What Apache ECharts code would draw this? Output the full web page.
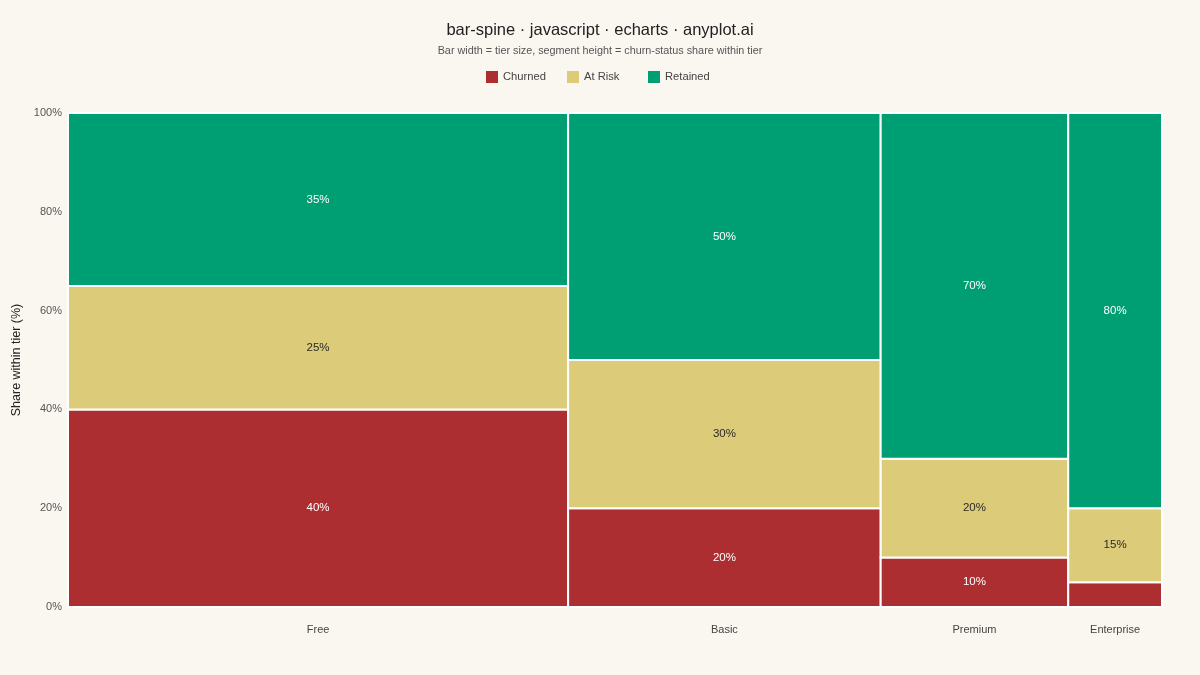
<!DOCTYPE html>
<html>
<head>
<meta charset="utf-8">
<script src="https://cdn.jsdelivr.net/npm/echarts@6/dist/echarts.min.js"></script>
<style>
	html, body { margin: 0; padding: 0; background: #faf7f1; }
	#main { width: 1200px; height: 675px; }
</style>
</head>
<body>
<div id="main"></div>
<script>
// tiers and their sizes (bar width)
var tiers = ['Free', 'Basic', 'Premium', 'Enterprise'];
var tierSize = [8000, 5000, 3000, 1500];
// share within tier (%)
var statuses = ['Churned', 'At Risk', 'Retained'];
var churned = [40, 20, 10, 5];
var atRisk = [25, 30, 20, 15];
var retained = [35, 50, 70, 80];
var colors = ['#ad2e31', '#dccb79', '#009e73'];
var labelColors = ['#ffffff', '#2a2a2a', '#ffffff'];
var FONT = '"Liberation Sans", Arial, sans-serif';

var total = 0;
var starts = [], centers = [];
for (var i = 0; i < tierSize.length; i++) {
	starts.push(total);
	centers.push(total + tierSize[i] / 2);
	total += tierSize[i];
}

var shares = [churned, atRisk, retained];

function buildData(s) {
	var out = [];
	for (var i = 0; i < tiers.length; i++) {
		var base = 0;
		for (var k = 0; k < s; k++) base += shares[k][i];
		out.push([starts[i], starts[i] + tierSize[i], base, base + shares[s][i], shares[s][i], i]);
	}
	return out;
}

function renderSeg(s) {
	return function(params, api) {
		var p0 = api.coord([api.value(0), api.value(2)]);
		var p1 = api.coord([api.value(1), api.value(3)]);
		var pct = api.value(4);
		var h = p0[1] - p1[1];
		return {
			type: 'rect',
			shape: { x: p0[0], y: p1[1], width: p1[0] - p0[0], height: h },
			style: {
				fill: colors[s],
				stroke: '#ffffff',
				lineWidth: 2,
				text: h > 30 ? pct + '%' : '',
				textFill: labelColors[s],
				fontSize: 11.5,
				fontFamily: FONT
			}
		};
	};
}

var series = [];
var legends = [];
for (var s = 0; s < statuses.length; s++) {
	series.push({
		name: statuses[s],
		type: 'custom',
		renderItem: renderSeg(s),
		encode: { x: [0, 1], y: [2, 3] },
		itemStyle: { color: colors[s] },
		data: buildData(s)
	});
	// one legend per status so the items sit evenly spaced
	legends.push({
		top: 66,
		left: 481 + s * 81,
		itemWidth: 12,
		itemHeight: 12,
		icon: 'rect',
		textStyle: { fontSize: 11.2, color: '#444444', fontFamily: FONT },
		data: [statuses[s]]
	});
}

var myChart = echarts.init(document.getElementById('main'));
var option = {
	backgroundColor: '#faf7f1',
	textStyle: { fontFamily: FONT },
	title: {
		text: 'bar-spine · javascript · echarts · anyplot.ai',
		subtext: 'Bar width = tier size, segment height = churn-status share within tier',
		left: 'center',
		top: 17,
		itemGap: 7,
		textStyle: { fontSize: 16.5, fontWeight: 'normal', color: '#222222', fontFamily: FONT },
		subtextStyle: { fontSize: 10.8, color: '#555555', fontFamily: FONT }
	},
	legend: legends,
	grid: {
		left: 68,
		right: 38,
		top: 113,
		bottom: 68,
		outerBoundsMode: 'none'
	},
	xAxis: {
		type: 'value',
		min: 0,
		max: total,
		splitLine: { show: false },
		axisLine: { show: false },
		axisTick: { show: false },
		axisLabel: {
			customValues: centers,
			color: '#444444',
			fontSize: 11,
			margin: 17,
			fontFamily: FONT,
			formatter: function(v) {
				var idx = centers.indexOf(v);
				return idx >= 0 ? tiers[idx] : '';
			}
		}
	},
	yAxis: {
		type: 'value',
		min: 0,
		max: 100,
		interval: 20,
		name: 'Share within tier (%)',
		nameLocation: 'middle',
		nameGap: 33,
		nameTextStyle: { fontSize: 12.5, color: '#222222', fontFamily: FONT },
		splitLine: { show: false },
		axisLine: { show: false },
		axisTick: { show: false },
		axisLabel: {
			formatter: '{value}%',
			color: '#555555',
			fontSize: 11,
			margin: 6,
			fontFamily: FONT
		}
	},
	series: series
};
myChart.setOption(option);
</script>
</body>
</html>
